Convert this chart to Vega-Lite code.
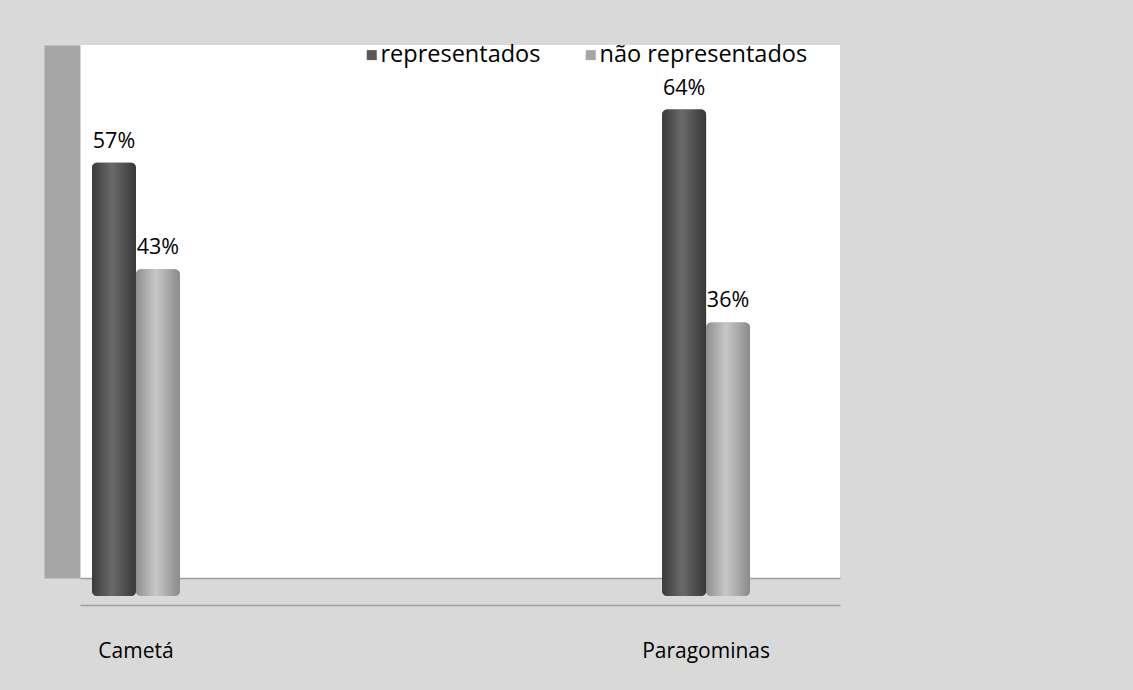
{
  "$schema": "https://vega.github.io/schema/vega-lite/v6.json",
  "width": 760,
  "height": 533,
  "autosize": {"type": "none"},
  "padding": {"left": 80, "top": 45, "right": 293, "bottom": 112},
  "background": "#d9d9d9",
  "config": {
    "view": {"fill": "white", "stroke": null},
    "font": "Open Sans"
  },
  "data": {
    "values": [
      {"municipio": "Cametá", "grupo": "representados", "valor": 0.57},
      {"municipio": "Cametá", "grupo": "não representados", "valor": 0.43},
      {"municipio": "Paragominas", "grupo": "representados", "valor": 0.64},
      {"municipio": "Paragominas", "grupo": "não representados", "valor": 0.36}
    ]
  },
  "encoding": {
    "x": {
      "field": "municipio",
      "type": "nominal",
      "sort": ["Cametá", "Paragominas"],
      "scale": {"paddingInner": 0.846, "paddingOuter": 0.0895, "align": 0.118},
      "axis": {
        "title": null,
        "labelAngle": 0,
        "offset": 27,
        "domainColor": "#a0a0a0",
        "domainWidth": 1.5,
        "ticks": false,
        "labelPadding": 35,
        "labelFontSize": 21,
        "labelColor": "#000000",
        "labelFont": "Open Sans"
      }
    },
    "xOffset": {
      "field": "grupo",
      "type": "nominal",
      "scale": {"domain": ["representados", "não representados"], "paddingInner": 0, "paddingOuter": 0}
    },
    "y": {
      "field": "valor",
      "type": "quantitative",
      "scale": {"domain": [0.0237, 0.725], "zero": false, "nice": false},
      "axis": {
        "title": null,
        "orient": "left",
        "offset": 18,
        "domainWidth": 36,
        "domainColor": "#a6a6a6",
        "labels": false,
        "ticks": false,
        "grid": true,
        "gridColor": "#a0a0a0",
        "gridWidth": 1.5,
        "values": [0.0237]
      }
    },
    "y2": {"datum": 0}
  },
  "layer": [
    {
      "mark": {"type": "bar", "cornerRadius": 5},
      "encoding": {
        "color": {
          "field": "grupo",
          "type": "nominal",
          "scale": {"domain": ["representados", "não representados"], "range": ["#595959", "#a6a6a6"]},
          "legend": {
            "title": null,
            "orient": "none",
            "direction": "horizontal",
            "legendX": 280,
            "legendY": -2,
            "symbolType": "square",
            "symbolSize": 100,
            "symbolStrokeWidth": 0,
            "labelFontSize": 23.5,
            "labelFont": "Open Sans",
            "labelColor": "#000000",
            "labelOffset": -3,
            "labelLimit": 400,
            "columnPadding": 38
          }
        }
      }
    },
    {
      "transform": [{"filter": "datum.grupo === 'representados'"}],
      "mark": {
        "type": "bar",
        "cornerRadius": 5,
        "color": {
          "gradient": "linear",
          "x1": 0, "y1": 0, "x2": 1, "y2": 0,
          "stops": [
            {"offset": 0, "color": "#3a3a3a"},
            {"offset": 0.45, "color": "#6a6a6a"},
            {"offset": 1, "color": "#383838"}
          ]
        }
      }
    },
    {
      "transform": [{"filter": "datum.grupo === 'não representados'"}],
      "mark": {
        "type": "bar",
        "cornerRadius": 5,
        "color": {
          "gradient": "linear",
          "x1": 0, "y1": 0, "x2": 1, "y2": 0,
          "stops": [
            {"offset": 0, "color": "#8e8e8e"},
            {"offset": 0.45, "color": "#c8c8c8"},
            {"offset": 1, "color": "#8a8a8a"}
          ]
        }
      }
    },
    {
      "mark": {"type": "text", "baseline": "alphabetic", "dy": -15, "fontSize": 21.5, "font": "Open Sans", "color": "#000000"},
      "encoding": {
        "text": {"field": "valor", "type": "quantitative", "format": ".0%"}
      }
    }
  ]
}
